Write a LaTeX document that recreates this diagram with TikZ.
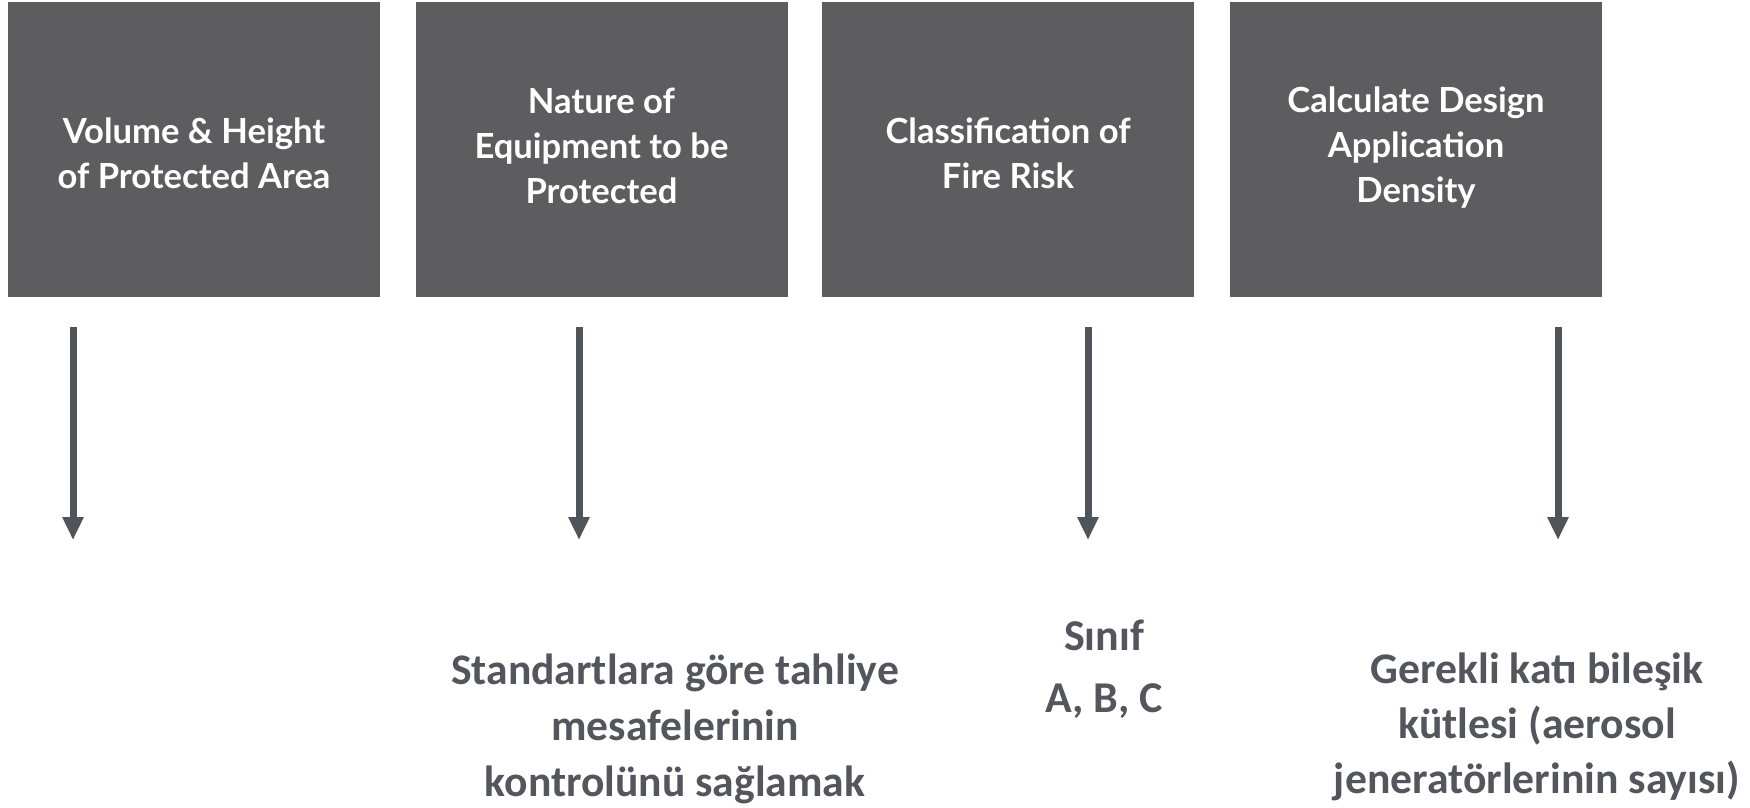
\documentclass[tikz,border=0pt]{standalone}
\usepackage{fontspec}
\setmainfont{Carlito}
\newfontfamily\boxfont{Lato}
\usetikzlibrary{arrows.meta}
\definecolor{boxgray}{HTML}{5D5D5F}
\definecolor{arrowgray}{HTML}{50555C}
\definecolor{txtgray}{HTML}{53575D}
\tikzset{
  stepbox/.style={fill=boxgray, draw=none, minimum width=372pt, minimum height=295pt,
    inner sep=0pt},
  steptext/.style={inner sep=0pt, text=white, align=center,
    font=\boxfont\bfseries\fontsize{34.6}{45}\selectfont},
  downarrow/.style={draw=arrowgray, line width=7pt,
    -{Triangle[width=20pt,length=23pt]}},
  result/.style={text=txtgray, align=center, inner sep=0pt,
    font=\bfseries\fontsize{43.6}{56}\selectfont}
}
\begin{document}
\begin{tikzpicture}[x=1pt,y=-1pt]
\useasboundingbox[fill=white] (0,0) rectangle (1750,807);
\node[stepbox] (b1) at (194,149.5) {};
\node[stepbox] (b2) at (601.5,149.5) {};
\node[stepbox] (b3) at (1008,149.5) {};
\node[stepbox] (b4) at (1416,149.5) {};
\node[steptext] (t1) at (194,153.5) {Volume \& Height\\of Protected Area};
\node[steptext] (t2) at (601.5,145.5) {Nature of\\Equipment to be\\Protected};
\node[steptext] (t3) at (1008,153.5) {Classification of\\Fire Risk};
\node[steptext] (t4) at (1416,147.5) {Calculate Design\\Application\\Density};
\coordinate (a1s) at (73,327);  \coordinate (a1e) at (73,540);
\coordinate (a2s) at (579,327); \coordinate (a2e) at (579,540);
\coordinate (a3s) at (1088,327);\coordinate (a3e) at (1088,540);
\coordinate (a4s) at (1558,327);\coordinate (a4e) at (1558,540);
\draw[downarrow] (a1s) -- (a1e);
\draw[downarrow] (a2s) -- (a2e);
\draw[downarrow] (a3s) -- (a3e);
\draw[downarrow] (a4s) -- (a4e);
\node[result] (r2) at (675,729) {Standartlara göre tahliye\\mesafelerinin\\kontrolünü sağlamak};
\node[result, font=\bfseries\fontsize{44}{61.5}\selectfont] (r3) at (1104,669) {Sınıf\\A, B, C};
\node[result, font=\bfseries\fontsize{43.7}{55}\selectfont] (r4) at (1537,727) {Gerekli katı bileşik\\kütlesi (aerosol\\jeneratörlerinin sayısı)};
\end{tikzpicture}
\end{document}
